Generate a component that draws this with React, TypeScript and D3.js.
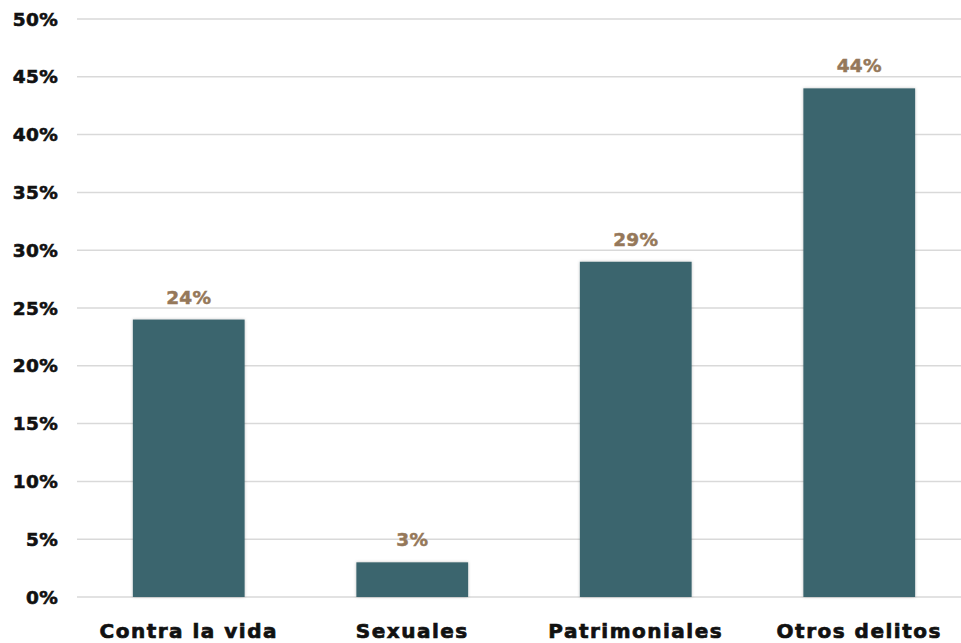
import React, { useRef, useEffect } from 'react';
import * as d3 from 'd3';

const categories = ['Contra la vida', 'Sexuales', 'Patrimoniales', 'Otros delitos'];
const values = [24, 3, 29, 44];
const yTicks = [0, 5, 10, 15, 20, 25, 30, 35, 40, 45, 50];

const App = () => {
  const svgRef = useRef<SVGSVGElement>(null);

  useEffect(() => {
    const width = 961;
    const height = 643;
    const margin = { top: 19, right: -10, bottom: 46, left: 77 };

    const svg = d3.select(svgRef.current);
    svg.selectAll('*').remove();
    svg.attr('width', width).attr('height', height);

    // soft shadow like the original bars
    const defs = svg.append('defs');
    const filter = defs.append('filter').attr('id', 'barShadow')
      .attr('x', '-10%').attr('y', '-10%').attr('width', '120%').attr('height', '120%');
    filter.append('feDropShadow')
      .attr('dx', 0).attr('dy', 0).attr('stdDeviation', 1.5)
      .attr('flood-color', '#000').attr('flood-opacity', 0.25);

    const x = d3.scaleBand()
      .domain(categories)
      .range([margin.left, width - margin.right])
      .paddingInner(0.5)
      .paddingOuter(0.25);

    const y = d3.scaleLinear()
      .domain([0, 50])
      .range([height - margin.bottom, margin.top]);

    const font = '"DejaVu Sans", Verdana, sans-serif';

    // gridlines
    svg.append('g')
      .selectAll('line')
      .data(yTicks)
      .join('line')
      .attr('x1', margin.left)
      .attr('x2', width)
      .attr('y1', d => y(d))
      .attr('y2', d => y(d))
      .attr('stroke', '#d9d9d9')
      .attr('stroke-width', 1.5);

    // y tick labels
    svg.append('g')
      .selectAll('text')
      .data(yTicks)
      .join('text')
      .attr('x', 58)
      .attr('y', d => y(d))
      .attr('dy', '0.36em')
      .attr('text-anchor', 'end')
      .style('font-family', font)
      .style('font-weight', 'bold')
      .style('font-size', '18.5px')
      .style('letter-spacing', '0.3px')
      .attr('fill', '#111')
      .attr('stroke', '#111')
      .attr('stroke-width', 0.6)
      .text(d => `${d}%`);

    // bars
    svg.append('g')
      .selectAll('rect')
      .data(values)
      .join('rect')
      .attr('x', (d, i) => x(categories[i]))
      .attr('y', d => y(d))
      .attr('width', x.bandwidth())
      .attr('height', d => y(0) - y(d))
      .attr('fill', '#3b656e')
      .attr('filter', 'url(#barShadow)');

    // value labels
    svg.append('g')
      .selectAll('text')
      .data(values)
      .join('text')
      .attr('x', (d, i) => x(categories[i]) + x.bandwidth() / 2)
      .attr('y', d => y(d) - 16)
      .attr('text-anchor', 'middle')
      .style('font-family', font)
      .style('font-weight', 'bold')
      .style('font-size', '18.5px')
      .style('letter-spacing', '0.3px')
      .attr('fill', '#95785a')
      .attr('stroke', '#95785a')
      .attr('stroke-width', 0.5)
      .text(d => `${d}%`);

    // category labels
    svg.append('g')
      .selectAll('text')
      .data(categories)
      .join('text')
      .attr('x', d => x(d) + x.bandwidth() / 2)
      .attr('y', 638)
      .attr('text-anchor', 'middle')
      .style('font-family', font)
      .style('font-weight', 'bold')
      .style('font-size', '20px')
      .style('letter-spacing', '1.5px')
      .attr('fill', '#111')
      .attr('stroke', '#111')
      .attr('stroke-width', 0.7)
      .text(d => d);
  }, []);

  return <svg ref={svgRef} style={{ position: 'absolute', left: 0, top: 0 }}></svg>;
};

export default App;
